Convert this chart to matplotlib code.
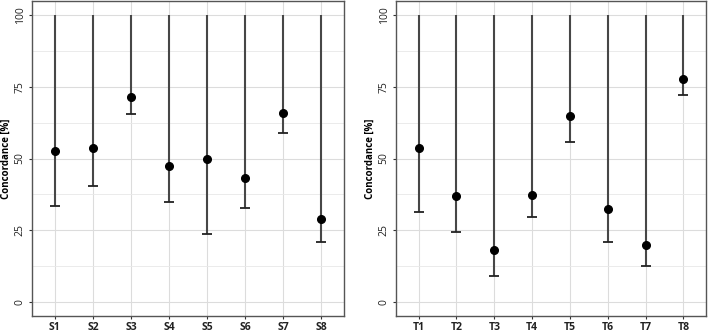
import matplotlib
matplotlib.use("Agg")
import matplotlib.pyplot as plt
from matplotlib.ticker import MultipleLocator

plt.rcParams['font.family'] = ['Open Sans', 'DejaVu Sans']

s_labels = ["S1", "S2", "S3", "S4", "S5", "S6", "S7", "S8"]
s_point = [52.7, 53.5, 71.5, 47.4, 49.9, 43.1, 65.9, 29.0]
s_lower = [33.4, 40.5, 65.7, 34.7, 23.6, 32.6, 59.0, 20.9]
s_upper = [100, 100, 100, 100, 100, 100, 100, 100]

t_labels = ["T1", "T2", "T3", "T4", "T5", "T6", "T7", "T8"]
t_point = [53.6, 36.9, 18.1, 37.2, 64.7, 32.3, 19.9, 77.6]
t_lower = [31.4, 24.5, 8.8, 29.4, 55.9, 20.7, 12.4, 72.1]
t_upper = [100, 100, 100, 100, 100, 100, 100, 100]

fig = plt.figure(figsize=(7.08, 3.34), dpi=100)
ax1 = fig.add_axes([32 / 708, 18 / 334, 312 / 708, 315 / 334])
ax2 = fig.add_axes([396 / 708, 18 / 334, 310 / 708, 315 / 334])


def draw(ax, labels, point, lower, upper):
    x = range(len(labels))
    ax.set_axisbelow(True)
    ax.grid(which="major", color="#dcdcdc", lw=0.8)
    ax.grid(which="minor", axis="y", color="#e8e8e8", lw=0.6)
    ax.vlines(x, lower, upper, color="#474747", lw=1.5, zorder=2)
    ax.plot(x, lower, ls="none", marker="_", ms=7, mew=1.3, color="#222222", zorder=3)
    ax.plot(x, point, ls="none", marker="o", ms=5.5, color="black", zorder=4)
    ax.set_xlim(-0.6, len(labels) - 0.4)
    ax.set_ylim(-5, 105)
    ax.set_xticks(list(x))
    ax.set_xticklabels(labels, fontsize=7.5, fontweight="bold", color="#222222")
    ax.yaxis.set_major_locator(MultipleLocator(25))
    ax.yaxis.set_minor_locator(MultipleLocator(12.5))
    ax.tick_params(axis="y", which="minor", length=0)
    ax.tick_params(axis="both", which="major", length=2.5, color="#333333", pad=2)
    for lab in ax.get_yticklabels():
        lab.set_rotation(90)
        lab.set_va("center")
        lab.set_fontsize(7.5)
        lab.set_color("#222222")
    ax.set_ylabel("Concordance [%]", fontsize=7, fontweight="bold", labelpad=2)
    for sp in ax.spines.values():
        sp.set_color("#555555")
        sp.set_linewidth(1.0)


draw(ax1, s_labels, s_point, s_lower, s_upper)
draw(ax2, t_labels, t_point, t_lower, t_upper)

fig.savefig("out.png", dpi=100)
